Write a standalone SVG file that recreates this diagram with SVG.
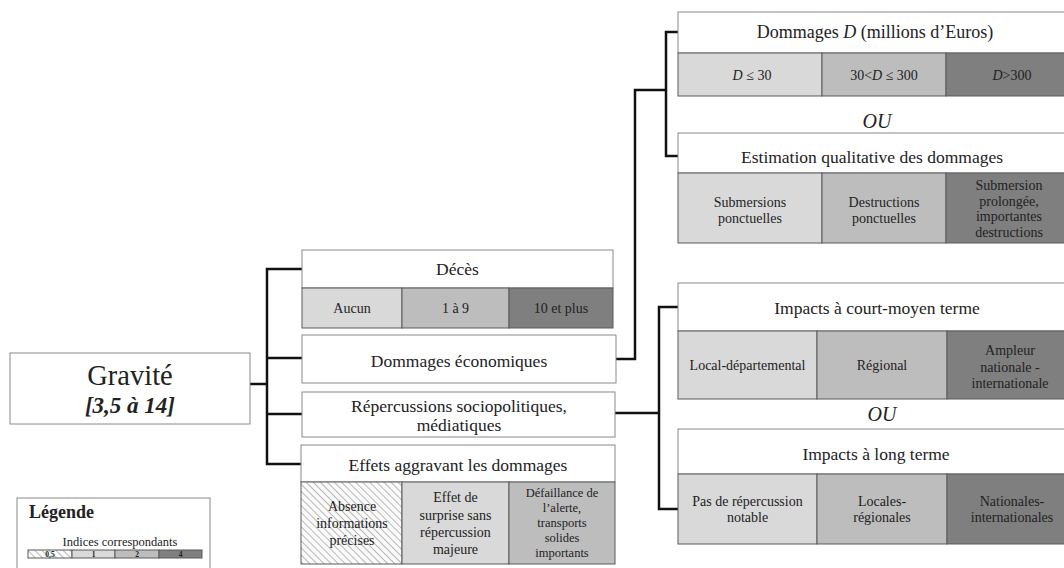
<svg xmlns="http://www.w3.org/2000/svg" width="1064" height="568" viewBox="0 0 1064 568">
<style>
text{font-family:"Liberation Serif","Times New Roman",serif;fill:#222;text-anchor:middle}
.t{font-size:17.5px}
.c{font-size:14px}
.s{font-size:12.5px}
.box{fill:#fff;stroke:#8a8a8a;stroke-width:1}
.l1{fill:#d9d9d9;stroke:#5a5a5a;stroke-width:1}
.l2{fill:#bdbdbd;stroke:#5a5a5a;stroke-width:1}
.l4{fill:#7f7f7f;stroke:#5a5a5a;stroke-width:1}
.h{fill:url(#hatch);stroke:#5a5a5a;stroke-width:1}
.ou{font-size:20px;font-style:italic}
.conn{fill:none;stroke:#111;stroke-width:2.5}
</style>
<defs>
<pattern id="hatch" patternUnits="userSpaceOnUse" width="5" height="5" patternTransform="rotate(-45)">
<rect width="5" height="5" fill="#fafafa"/>
<line x1="0" y1="0" x2="0" y2="5" stroke="#a8a8a8" stroke-width="1.6"/>
</pattern>
</defs>

<g id="connectors">
<path class="conn" d="M250,384 H267"/>
<path class="conn" d="M302,269 H267 V464 H302"/>
<path class="conn" d="M267,358 H302"/>
<path class="conn" d="M267,414 H302"/>
<path class="conn" d="M616,359 H635 V90 H666"/>
<path class="conn" d="M678,32 H666 V156 H678"/>
<path class="conn" d="M615,413 H659"/>
<path class="conn" d="M678,307 H659 V509 H678"/>
</g>

<g id="gravite">
<rect class="box" x="10" y="353" width="240" height="71"/>
<text x="130" y="385" style="font-size:28.5px">Gravité</text>
<text x="130" y="413" style="font-size:23px;font-weight:bold;font-style:italic">[3,5 à 14]</text>
</g>

<g id="deces">
<rect class="box" x="302" y="250" width="311" height="38"/>
<text class="t" x="457.5" y="275">Décès</text>
<rect class="l1" x="302" y="288" width="100" height="40"/>
<rect class="l2" x="402" y="288" width="107" height="40"/>
<rect class="l4" x="509" y="288" width="104" height="40"/>
<text class="c" x="352" y="313">Aucun</text>
<text class="c" x="455.5" y="313">1 à 9</text>
<text class="c" x="561" y="313">10 et plus</text>
</g>

<g id="dommages-eco">
<rect class="box" x="302" y="335" width="314" height="48"/>
<text class="t" x="459" y="367">Dommages économiques</text>
</g>

<g id="repercussions">
<rect class="box" x="302" y="392" width="313" height="45"/>
<text class="t" x="459" y="412">Répercussions sociopolitiques,</text>
<text class="t" x="459" y="431">médiatiques</text>
</g>

<g id="effets">
<rect class="box" x="301" y="445" width="314" height="37"/>
<text class="t" x="458" y="471">Effets aggravant les dommages</text>
<rect class="h" x="301" y="482" width="101" height="82"/>
<rect class="l1" x="402" y="482" width="107" height="82"/>
<rect class="l2" x="509" y="482" width="106" height="82"/>
<text class="c" x="352" y="511">Absence</text>
<text class="c" x="352" y="528">informations</text>
<text class="c" x="352" y="545">précises</text>
<text class="c" x="455.5" y="502">Effet de</text>
<text class="c" x="455.5" y="519.5">surprise sans</text>
<text class="c" x="455.5" y="537">répercussion</text>
<text class="c" x="455.5" y="554">majeure</text>
<text class="s" x="562" y="497">Défaillance de</text>
<text class="s" x="562" y="512">l’alerte,</text>
<text class="s" x="562" y="527">transports</text>
<text class="s" x="562" y="542">solides</text>
<text class="s" x="562" y="557">importants</text>
</g>

<g id="dommages-d">
<rect class="box" x="678" y="12" width="394" height="41"/>
<text x="875" y="38" style="font-size:18px">Dommages <tspan font-style="italic">D</tspan> (millions d’Euros)</text>
<rect class="l1" x="678" y="53" width="144" height="43"/>
<rect class="l2" x="822" y="53" width="124" height="43"/>
<rect class="l4" x="946" y="53" width="126" height="43"/>
<text class="c" x="752" y="80"><tspan font-style="italic">D</tspan> ≤ 30</text>
<text class="c" x="884" y="80">30&lt;<tspan font-style="italic">D</tspan> ≤ 300</text>
<text class="c" x="1012" y="80"><tspan font-style="italic">D</tspan>&gt;300</text>
</g>

<g id="ou1">
<text class="ou" x="877" y="128">OU</text>
</g>

<g id="estimation">
<rect class="box" x="678" y="133" width="394" height="40"/>
<text class="t" x="872" y="163">Estimation qualitative des dommages</text>
<rect class="l1" x="678" y="173" width="144" height="70"/>
<rect class="l2" x="822" y="173" width="124" height="70"/>
<rect class="l4" x="946" y="173" width="126" height="70"/>
<text class="c" x="750" y="207">Submersions</text>
<text class="c" x="750" y="223">ponctuelles</text>
<text class="c" x="884" y="207">Destructions</text>
<text class="c" x="884" y="223">ponctuelles</text>
<text class="c" x="1009" y="190">Submersion</text>
<text class="c" x="1009" y="205.5">prolongée,</text>
<text class="c" x="1009" y="221">importantes</text>
<text class="c" x="1009" y="236.5">destructions</text>
</g>

<g id="court-moyen">
<rect class="box" x="678" y="283" width="394" height="48"/>
<text class="t" x="877" y="314">Impacts à court-moyen terme</text>
<rect class="l1" x="678" y="331" width="139" height="68"/>
<rect class="l2" x="817" y="331" width="130" height="68"/>
<rect class="l4" x="947" y="331" width="125" height="68"/>
<text class="c" x="747.5" y="370">Local-départemental</text>
<text class="c" x="882" y="370">Régional</text>
<text class="c" x="1010" y="355">Ampleur</text>
<text class="c" x="1010" y="371.5">nationale -</text>
<text class="c" x="1010" y="388">internationale</text>
</g>

<g id="ou2">
<text class="ou" x="882" y="421">OU</text>
</g>

<g id="long-terme">
<rect class="box" x="678" y="429" width="394" height="45"/>
<text class="t" x="876" y="460">Impacts à long terme</text>
<rect class="l1" x="678" y="474" width="139" height="70"/>
<rect class="l2" x="817" y="474" width="130" height="70"/>
<rect class="l4" x="947" y="474" width="125" height="70"/>
<text class="c" x="747.5" y="506">Pas de répercussion</text>
<text class="c" x="747.5" y="522">notable</text>
<text class="c" x="882" y="506">Locales-</text>
<text class="c" x="882" y="522">régionales</text>
<text class="c" x="1012" y="506">Nationales-</text>
<text class="c" x="1012" y="522">internationales</text>
</g>

<g id="legende">
<rect class="box" x="17" y="498" width="193" height="72"/>
<text x="29" y="518" style="font-size:18px;font-weight:bold;text-anchor:start">Légende</text>
<text x="120" y="546" style="font-size:12.5px">Indices correspondants</text>
<rect class="h" x="28" y="550" width="44" height="8"/>
<rect class="l1" x="72" y="550" width="43" height="8"/>
<rect class="l2" x="115" y="550" width="44" height="8"/>
<rect class="l4" x="159" y="550" width="43" height="8"/>
<g style="font-size:7.5px;font-weight:bold">
<text x="50" y="556.5">0,5</text>
<text x="93.5" y="556.5">1</text>
<text x="137" y="556.5">2</text>
<text x="180.5" y="556.5">4</text>
</g>
</g>
</svg>
